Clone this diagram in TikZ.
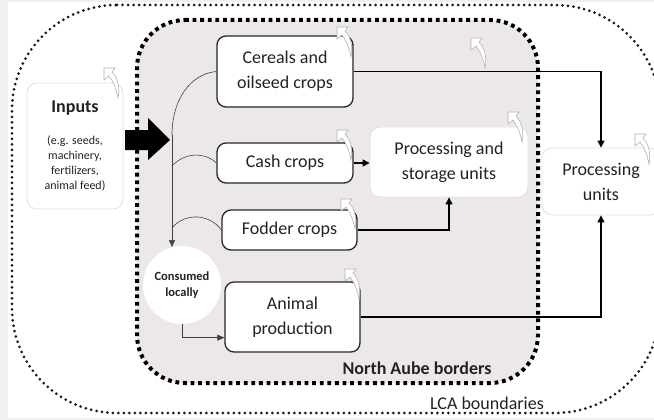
\documentclass[tikz,border=0pt]{standalone}
\usepackage{fontspec}
\setmainfont{Carlito}
\usetikzlibrary{arrows.meta,calc}
\definecolor{areagray}{HTML}{EDE8E8}
\definecolor{edgegray}{HTML}{F0F0F0}
\definecolor{txt}{HTML}{222222}
\tikzset{
  cropbox/.style={draw=black!85,line width=1.3pt,rounded corners=9pt,fill=white,
    align=center,font=\fontsize{18}{25}\selectfont,text=txt,inner sep=0pt},
  softbox/.style={draw=black!12,line width=0.8pt,rounded corners=10pt,fill=white,
    align=center,font=\fontsize{18}{25}\selectfont,text=txt,inner sep=0pt},
  flow/.style={line width=1.3pt,-{Triangle[length=7pt,width=7pt]}},
  thinflow/.style={line width=0.6pt,draw=black!75},
  curly/.pic={
    \draw[draw=black!30,fill=white,line width=0.6pt]
      (1,0) -- (12,0) -- (9,4) .. controls (15,10) and (17,20) .. (15,30)
      .. controls (13,20) and (10,13) .. (6,8) -- (1,12) -- cycle;
  }
}
\begin{document}
\begin{tikzpicture}[x=1pt,y=-1pt]
\useasboundingbox (0,0) rectangle (654,420);
\fill[edgegray] (0,0) rectangle (654,420);
\fill[white] (8,2) rectangle (654,418);
% LCA boundaries
\begin{scope}
\clip (8,2) rectangle (654,418);
\draw[draw=black!90,line width=3pt,line cap=round,dash pattern=on 0pt off 5.5pt]
  (12,5) [rounded corners=105pt] -- (660,5) -- (660,413) -- (12,413) -- cycle;
\end{scope}
% North Aube borders
\draw[draw=black,fill=areagray,line width=4pt,dash pattern=on 3.8pt off 3.8pt]
  (137,20) [rounded corners=48pt] -- (538,20) -- (538,383) -- (137,383) -- cycle;

% Inputs
\node[softbox,minimum width=96pt,minimum height=126pt] (inputs) at (75,146) {};
\node[font=\bfseries\fontsize{18}{22}\selectfont,text=txt] (inputstitle) at (75,108) {Inputs};
\node[font=\fontsize{12}{15}\selectfont,text=txt,align=center] (inputsex) at (75,163)
  {(e.g. seeds,\\machinery,\\fertilizers,\\animal feed)};
% big arrow
\fill[black] (125,130) -- (148,130) -- (148,118) -- (170,140) -- (148,160) -- (148,150) -- (125,150) -- cycle;

% crop boxes
\node[cropbox,minimum width=136pt,minimum height=71pt] (cereals) at (285,71.5) {Cereals and\\oilseed crops};
\node[cropbox,minimum width=136pt,minimum height=40pt] (cash) at (285,163) {Cash crops};
\node[cropbox,minimum width=135pt,minimum height=40pt] (fodder) at (289.5,230) {Fodder crops};
\node[cropbox,minimum width=135pt,minimum height=70pt] (animal) at (292.5,317) {Animal\\production};
\node[softbox,minimum width=158pt,minimum height=70pt] (storage) at (449,162) {Processing and\\storage units};
\node[softbox,minimum width=118pt,minimum height=67pt,text width=118pt] (proc) at (601,181.5) {Processing\\units};
\node[circle,fill=white,minimum size=78pt,inner sep=0pt,align=center,
  font=\bfseries\fontsize{12.5}{15.5}\selectfont,text=txt] (consumed) at (182,285) {Consumed\\locally};

% local consumption branches
\coordinate (trunk) at (172,135);
\coordinate (cashj) at (172,166);
\coordinate (fodj) at (172,228);
\draw[thinflow] (cereals.west) .. controls (190,74) and (172,100) .. (trunk);
\draw[thinflow,-{Triangle[length=7pt,width=6pt]}] (trunk) -- (trunk |- 0,247);
\draw[thinflow] (cashj) .. controls (185,152) and (205,152) .. (cash.west);
\draw[thinflow] (fodj) .. controls (185,212) and (210,214) .. (fodder.west);
\draw[thinflow,-{Triangle[length=7pt,width=6pt]}] (consumed.south)
  |- ($(animal.south west)!0.21!(animal.north west)$);

% flows
\draw[flow] (cereals.east) -| (proc.north);
\draw[flow] (cash.east) -- (storage.west |- cash.east);
\draw[flow] (fodder.east) -| (storage.south);
\draw[flow] (animal.east) -| (proc.south);

% labels
\node[font=\bfseries\fontsize{18}{22}\selectfont,text=txt] (northaube) at (417,368) {North Aube borders};
\node[font=\fontsize{18}{22}\selectfont,text=txt,fill=white,inner sep=1pt] (lca) at (487,403) {LCA boundaries};

% decorative curly icons
\pic at (103,68) {curly};
\pic at (336,27) {curly};
\pic at (470,38) {curly};
\pic at (336,130) {curly};
\pic at (507,112) {curly};
\pic at (634,134) {curly};
\pic at (340,199) {curly};
\pic at (344,269) {curly};
\end{tikzpicture}
\end{document}
